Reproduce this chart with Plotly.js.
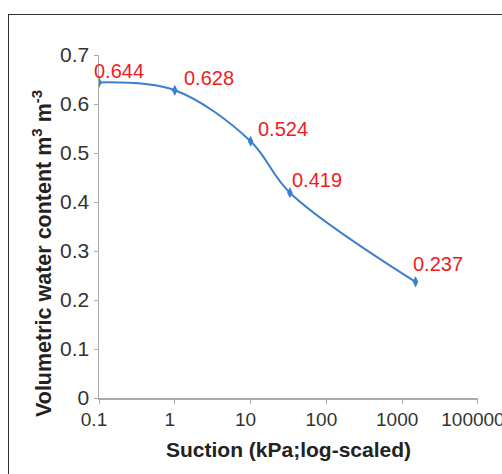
<!DOCTYPE html>
<html><head><meta charset="utf-8">
<script src="https://cdn.plot.ly/plotly-3.0.1.min.js"></script>
<style>html,body{margin:0;padding:0;background:#fff;overflow:hidden;width:502px;height:474px;}#wrap{position:relative;width:502px;height:474px;overflow:hidden;}#chart{width:502px;height:474px;}#frame{position:absolute;left:8px;top:14px;width:560px;height:520px;border-left:1.5px solid #333;border-top:1.5px solid #333;pointer-events:none;box-sizing:border-box;}</style>
</head><body><div id="wrap"><div id="chart"></div><div id="frame"></div></div>
<script>
const suction = [0.1, 1, 10, 33, 1500];
const waterContent = [0.644, 0.628, 0.524, 0.419, 0.237];
const xTickVals = [0.1, 1, 10, 100, 1000, 10000];
const xTickText = ['0.1', '1', '10', '100', '1000', '100000'];
const yTickVals = [0, 0.1, 0.2, 0.3, 0.4, 0.5, 0.6, 0.7];
const yTickText = ['0', '0.1', '0.2', '0.3', '0.4', '0.5', '0.6', '0.7'];
const xTitle = '<b>Suction (kPa;log-scaled)</b>';
const yTitle = '<b>Volumetric water content m<sup>3</sup> m<sup>-3</sup></b>';

// label offsets in pixels (style only)
const labelDx = [-7, 7, 5, 0, -5];
const labelDy = [-2, -1, -1, 0, 5];

const trace = {
  x: suction, y: waterContent, type: 'scatter', mode: 'lines+markers',
  line: {color: '#3c7ecf', width: 2, shape: 'spline', smoothing: 1},
  marker: {symbol: 'diamond-tall', size: 8, color: '#3c7ecf'},
  hoverinfo: 'skip'
};

const annotations = suction.map((s, i) => ({
  x: Math.log10(s), y: waterContent[i], xref: 'x', yref: 'y',
  text: waterContent[i].toFixed(3), showarrow: false,
  xanchor: 'left', yanchor: 'bottom', xshift: labelDx[i], yshift: labelDy[i],
  font: {family: 'Liberation Sans, Arial, sans-serif', size: 20, color: '#ef1b22'}
}));
annotations.push({
  x: (42 - 99) / 379, y: (398 - 254) / 343, xref: 'paper', yref: 'paper',
  text: yTitle, textangle: -90, showarrow: false, xanchor: 'center', yanchor: 'middle',
  font: {family: 'Liberation Sans, Arial, sans-serif', size: 21.5, color: '#222'}
});

const layout = {
  width: 502, height: 474,
  margin: {l: 99, r: 24, t: 55, b: 76},
  paper_bgcolor: '#fff', plot_bgcolor: '#fff',
  showlegend: false,
  font: {family: 'Liberation Sans, Arial, sans-serif', size: 20, color: '#333'},
  xaxis: {
    type: 'log', range: [-1, 4.0005], tickvals: xTickVals, ticktext: xTickText,
    showgrid: false, zeroline: false, showline: true, linecolor: '#aaa', linewidth: 1.5,
    ticks: 'outside', ticklen: 4, tickcolor: '#aaa', ticklabelshift: -5,
    ticklabeloverflow: 'allow',
    tickfont: {size: 19, color: '#333'},
    title: {text: xTitle, font: {size: 21, color: '#222'}, standoff: 13}
  },
  yaxis: {
    range: [0, 0.7], tickvals: yTickVals, ticktext: yTickText,
    showgrid: false, zeroline: false, showline: true, linecolor: '#aaa', linewidth: 1.5,
    ticks: 'outside', ticklen: 4, tickcolor: '#aaa', tickfont: {size: 21, color: '#333'}
  },
  annotations: annotations
};

Plotly.newPlot('chart', [trace], layout, {staticPlot: true, displayModeBar: false});
</script></body></html>
